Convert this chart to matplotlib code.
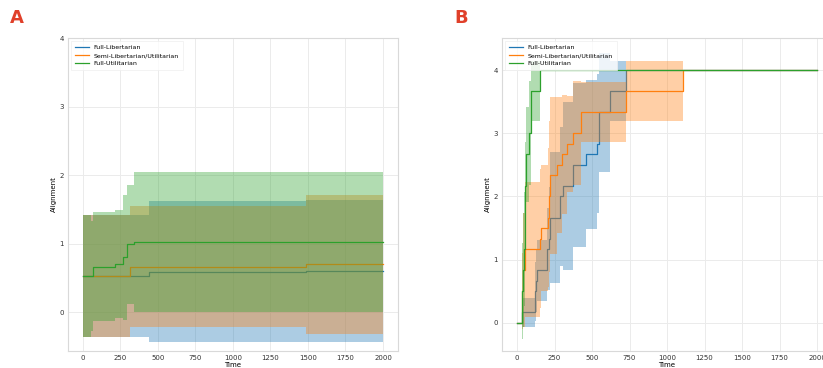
import matplotlib.pyplot as plt
import numpy as np

plt.rcParams['font.family'] = 'DejaVu Sans'
plt.rcParams['font.size'] = 5

labels = ["Full-Libertarian", "Semi-Libertarian/Utilitarian", "Full-Utilitarian"]
colors = ['#1f77b4', '#ff7f0e', '#2ca02c']

# panel A: step times, mean alignment and spread per policy
a_lib_t = [0, 442, 1487, 2000]
a_lib_mean = [0.53, 0.594, 0.60, 0.60]
a_lib_std = [0.886, 1.03, 1.04, 1.04]

a_semi_t = [0, 313, 1487, 2000]
a_semi_mean = [0.53, 0.667, 0.70, 0.70]
a_semi_std = [0.886, 0.883, 1.01, 1.01]

a_util_t = [0, 53, 64, 213, 264, 291, 342, 2000]
a_util_mean = [0.53, 0.53, 0.667, 0.70, 0.80, 0.99, 1.02, 1.02]
a_util_std = [0.886, 0.80, 0.80, 0.79, 0.91, 0.87, 1.02, 1.02]

# panel B
b_lib_t = [0, 32, 120, 128, 135, 198, 210, 222, 287, 305, 376, 460, 536, 545, 620, 727, 2000]
b_lib_mean = [0, 0.167, 0.5, 0.667, 0.833, 1.167, 1.333, 1.667, 2.0, 2.167, 2.5, 2.667, 2.833,
              3.333, 3.667, 4.0, 4.0]
b_lib_std = [0, 0.23, 0.47, 0.5, 0.48, 0.65, 0.81, 1.04, 1.1, 1.33, 1.3, 1.18, 1.1,
             0.94, 0.47, 0, 0]

b_semi_t = [0, 31, 36, 42, 50, 153, 158, 209, 215, 220, 264, 298, 331, 376, 424, 727, 1109, 2000]
b_semi_mean = [0, 0.167, 0.5, 0.833, 1.167, 1.333, 1.5, 1.667, 2.0, 2.333, 2.5, 2.667, 2.833,
               3.0, 3.333, 3.667, 4.0, 4.0]
b_semi_std = [0, 0.3, 0.6, 0.9, 1.07, 1.1, 1.0, 1.1, 1.2, 1.24, 1.07, 0.94, 0.76,
              0.82, 0.47, 0.47, 0, 0]

b_util_t = [0, 31, 36, 40, 45, 50, 55, 62, 80, 95, 155, 2000]
b_util_mean = [0, 0.167, 0.5, 0.833, 1.167, 1.667, 2.167, 2.667, 3.0, 3.667, 4.0, 4.0]
b_util_std = [0, 0.37, 0.76, 0.9, 0.9, 0.75, 0.69, 0.75, 0.82, 0.47, 0, 0]

panel_a = [(a_lib_t, a_lib_mean, a_lib_std),
           (a_semi_t, a_semi_mean, a_semi_std),
           (a_util_t, a_util_mean, a_util_std)]
panel_b = [(b_lib_t, b_lib_mean, b_lib_std),
           (b_semi_t, b_semi_mean, b_semi_std),
           (b_util_t, b_util_mean, b_util_std)]


def draw(ax, series, ylim):
    for (t, m, s), lab, c in zip(series, labels, colors):
        t = np.array(t)
        m = np.array(m)
        s = np.array(s)
        # mean line first, then its spread shaded over it (same zorder keeps call order)
        ax.step(t, m, where='post', color=c, lw=0.9, label=lab, zorder=2)
        ax.fill_between(t, m - s, m + s, step='post', color=c, alpha=0.37,
                        linewidth=0, zorder=2)
    ax.set_xlim(-100, 2100)
    ax.set_ylim(*ylim)
    ax.set_xticks(range(0, 2001, 250))
    ax.set_yticks(range(0, 5))
    ax.grid(color='#ebebeb', lw=0.7)
    ax.set_axisbelow(True)
    for sp in ax.spines.values():
        sp.set_color('#d9d9d9')
        sp.set_linewidth(0.8)
    ax.tick_params(length=0, pad=3, labelsize=5, colors='#333333')
    ax.set_xlabel('Time', fontsize=5, labelpad=0.5)
    ax.set_ylabel('Alignment', fontsize=5, labelpad=1.5)
    leg = ax.legend(loc='upper left', fontsize=4.5, frameon=True, borderpad=0.6,
                    handlelength=2.2, labelspacing=0.4, fancybox=False)
    leg.get_frame().set_edgecolor('#eeeeee')
    leg.get_frame().set_linewidth(0.6)


fig = plt.figure(figsize=(8.23, 3.68), dpi=100)
ax_a = fig.add_axes([0.0826, 0.0462, 0.401, 0.8505])
ax_b = fig.add_axes([0.6100, 0.0462, 0.401, 0.8505])

draw(ax_a, panel_a, (-0.565, 4.0))
draw(ax_b, panel_b, (-0.443, 4.506))

fig.text(0.012, 0.975, 'A', color='#e0402a', fontsize=13, fontweight='bold', va='top')
fig.text(0.552, 0.975, 'B', color='#e0402a', fontsize=13, fontweight='bold', va='top')

fig.savefig('out.png', dpi=100)
